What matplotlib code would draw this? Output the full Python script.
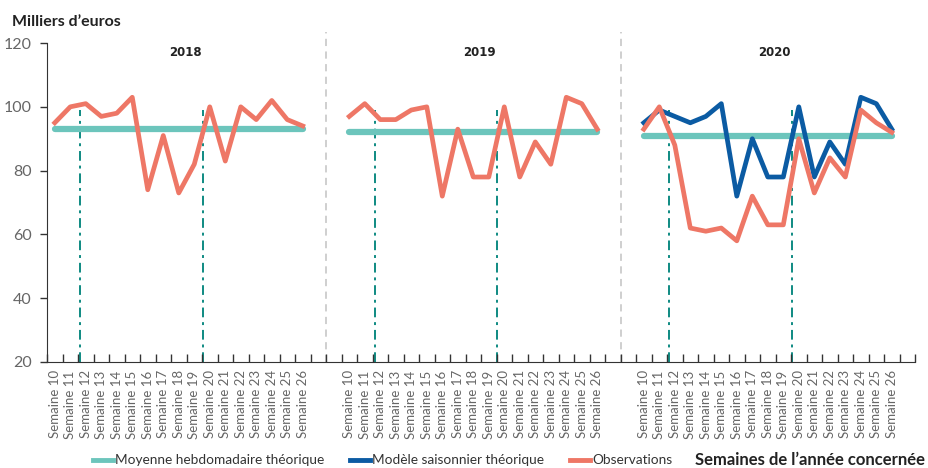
import matplotlib.pyplot as plt
import numpy as np
from matplotlib.lines import Line2D

weeks = list(range(10, 27))
years = ['2018', '2019', '2020']

obs_2018 = [95, 100, 101, 97, 98, 103, 74, 91, 73, 82, 100, 83, 100, 96, 102, 96, 94]
obs_2019 = [97, 101, 96, 96, 99, 100, 72, 93, 78, 78, 100, 78, 89, 82, 103, 101, 93]
obs_2020 = [93, 100, 88, 62, 61, 62, 58, 72, 63, 63, 90, 73, 84, 78, 99, 95, 92]
model_2020 = [95, 99, 97, 95, 97, 101, 72, 90, 78, 78, 100, 78, 89, 82, 103, 101, 93]
mean_vals = [93, 92, 91]

# confinement / deconfinement markers (week position)
markers = [11.65, 19.55]
marker_top = 99

c_obs = '#ee7766'
c_mean = '#6cc5bc'
c_model = '#0b5ba3'
c_mark = '#0e8a82'
c_sep = '#cccccc'

plt.rcParams['font.family'] = ['Lato', 'DejaVu Sans']

fig = plt.figure(figsize=(9.29, 4.68), dpi=100)
ax = fig.add_axes([0.0506, 0.2265, 0.9344, 0.6815])

n = len(weeks)
gap = 2
starts = [0, n + gap, 2 * (n + gap)]
total = 3 * n + 2 * gap + 1

obs = [obs_2018, obs_2019, obs_2020]
tick_pos = []
tick_lab = []
for k, s in enumerate(starts):
    x = np.arange(s, s + n)
    tick_pos += list(x)
    tick_lab += ['Semaine %d' % w for w in weeks]
    ax.plot([x[0], x[-1]], [mean_vals[k], mean_vals[k]], color=c_mean, lw=4.5,
            solid_capstyle='round', zorder=2)
    if k == 2:
        ax.plot(x, model_2020, color=c_model, lw=3.4, zorder=3)
    ax.plot(x, obs[k], color=c_obs, lw=3.4, zorder=4)
    for m in markers:
        xm = s + m - weeks[0]
        ax.plot([xm, xm], [20, marker_top], color=c_mark, lw=1.4,
                ls=(0, (5, 2.5, 1.5, 2.5)), zorder=1.5)
    ax.text(s + 8.4, 117, years[k], ha='center', va='center', fontsize=8.5,
            fontweight='bold', family=['Liberation Sans Narrow', 'DejaVu Sans'],
            color='#222222')
    if k > 0:
        xs = s - gap / 2 - 0.5
        ax.plot([xs, xs], [20, 123.5], color=c_sep, lw=1.3, ls=(0, (4, 3)),
                clip_on=False, zorder=1)

ax.set_xlim(-0.5, total - 0.5)
ax.set_ylim(20, 120)
ax.set_yticks([20, 40, 60, 80, 100, 120])
ax.tick_params(axis='y', labelsize=11.5, labelcolor='#666666', length=5,
               width=1, color='#333333', pad=6)
ax.set_xticks(tick_pos)
ax.set_xticklabels(tick_lab, rotation=90, fontsize=9.5, color='#666666')
ax.set_xticks(np.arange(total + 1) - 0.5, minor=True)
ax.tick_params(axis='x', which='major', length=0, pad=6)
ax.tick_params(axis='x', which='minor', direction='in', length=6, width=1,
               color='#333333')
for sp in ['top', 'right']:
    ax.spines[sp].set_visible(False)
ax.spines['left'].set_color('#333333')
ax.spines['bottom'].set_color('#333333')

fig.text(0.013, 0.953, 'Milliers d\u2019euros', fontsize=11.5, fontweight='bold',
         color='#222222', va='center')
fig.text(0.996, 0.017, 'Semaines de l\u2019ann\u00e9e concern\u00e9e', fontsize=12,
         fontweight='bold', color='#222222', ha='right', va='center')

# legend, placed by hand along the bottom edge
leg_colors = [c_mean, c_model, c_obs]
leg_labels = ['Moyenne hebdomadaire th\u00e9orique', 'Mod\u00e8le saisonnier th\u00e9orique',
              'Observations']
leg_x = [93, 350, 570]
for col, lab, px in zip(leg_colors, leg_labels, leg_x):
    x0 = px / 929
    fig.add_artist(Line2D([x0, x0 + 20 / 929], [0.017, 0.017], color=col, lw=3.5,
                          transform=fig.transFigure))
    fig.text(x0 + 22 / 929, 0.017, lab, fontsize=9.8, color='#333333', va='center')

fig.savefig('out.png', dpi=100)
